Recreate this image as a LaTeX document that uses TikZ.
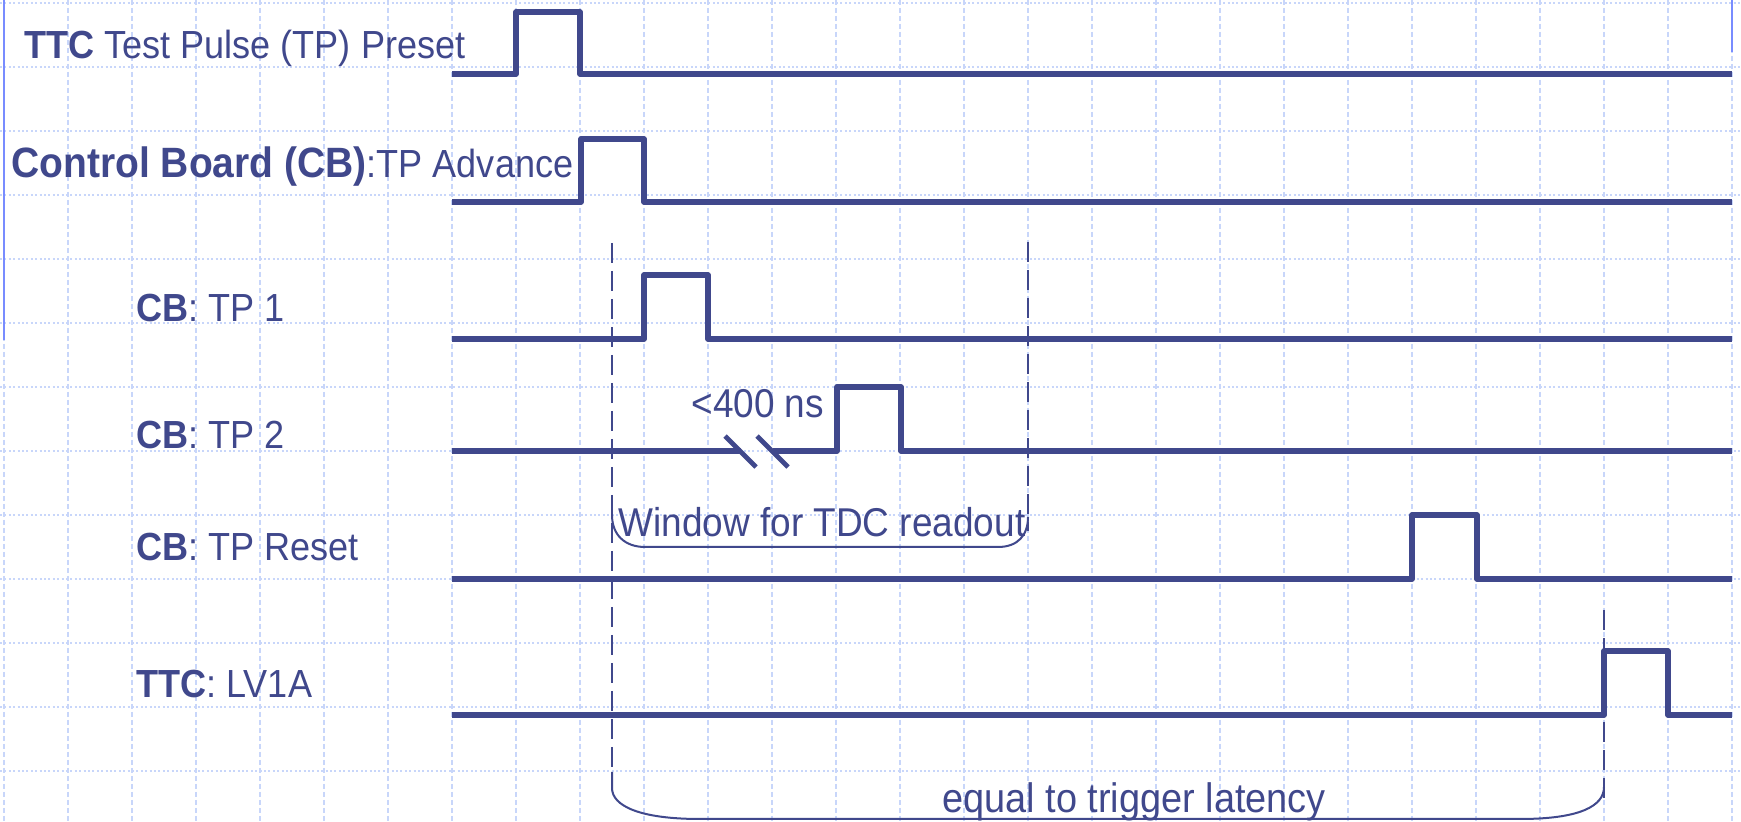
\documentclass[tikz,border=0pt]{standalone}
\usepackage{fontspec}
\setmainfont{Liberation Sans}[FakeStretch=0.92]
\definecolor{sig}{RGB}{64,72,140}
\definecolor{gridc}{RGB}{200,214,250}
\definecolor{edgeblue}{RGB}{120,140,255}
\begin{document}
\begin{tikzpicture}[x=0.5pt,y=-0.5pt,
  signal/.style={draw=sig,line width=2.6pt,line join=round},
  breakmark/.style={draw=sig,line width=2.4pt},
  guide/.style={draw=sig,line width=0.9pt,dash pattern=on 10pt off 4pt},
  bracket/.style={draw=sig,line width=1pt},
  vgrid/.style={draw=gridc,line width=0.8pt,dash pattern=on 2.5pt off 1.5pt},
  hgrid/.style={draw=gridc,line width=1pt,dash pattern=on 1pt off 1.2pt},
  lbl/.style={anchor=base west,inner sep=0pt,text=sig,font=\fontsize{19.6}{22}\selectfont},
  note/.style={anchor=base west,inner sep=0pt,text=sig,font=\fontsize{20.1}{22}\selectfont}]
\useasboundingbox (0,0) rectangle (1741,822);
\fill[white] (0,0) rectangle (1741,822);
% grid
\foreach \i in {0,...,27} \draw[vgrid] ({4+64*\i},0) -- ({4+64*\i},822);
\foreach \j in {0,...,12} \draw[hgrid] (0,{3+64*\j}) -- (1741,{3+64*\j});
% slide edges
\draw[edgeblue,line width=1pt] (4,0) -- (4,340);
\draw[edgeblue,line width=1pt] (1732,0) -- (1732,52);
% labels
\node[lbl] (l1) at (24,59) {\textbf{TTC} Test Pulse (TP) Preset};
\node[lbl] (l2) at (11,178) {{\fontsize{21.2}{23}\selectfont\textbf{Control Board (CB)}}:TP Advance};
\node[lbl] (l3) at (136,322) {\textbf{CB}: TP 1};
\node[lbl] (l4) at (136,449) {\textbf{CB}: TP 2};
\node[lbl] (l5) at (136,561) {\textbf{CB}: TP Reset};
\node[lbl] (l6) at (136,698) {\textbf{TTC}: LV1A};
% signals
\draw[signal] (452,74) -- (516,74) -- (516,12) -- (580,12) -- (580,74) -- (1732,74);
\draw[signal] (452,202) -- (581,202) -- (581,139) -- (644,139) -- (644,202) -- (1732,202);
\draw[signal] (452,339) -- (644,339) -- (644,275) -- (708,275) -- (708,339) -- (1732,339);
\draw[signal] (452,451) -- (741,451);
\draw[signal] (773,451) -- (837,451) -- (837,387) -- (901,387) -- (901,451) -- (1732,451);
\draw[signal] (452,579) -- (1412,579) -- (1412,515) -- (1477,515) -- (1477,579) -- (1732,579);
\draw[signal] (452,715) -- (1604,715) -- (1604,651) -- (1668,651) -- (1668,715) -- (1732,715);
% break marks
\draw[breakmark] (725,436) -- (756,467);
\draw[breakmark] (757,436) -- (788,467);
\node[note] (gap) at (691,418) {<400 ns};
% guides
\draw[guide] (612,243) -- (612,776);
\draw[guide] (1028,242) -- (1028,531);
\draw[guide] (1604,610) -- (1604,802);
% window bracket
\draw[bracket] (612,515) .. controls (612,535) and (625,547) .. (645,547) -- (998,547) .. controls (1018,547) and (1028,535) .. (1028,517);
\node[note] (win) at (618,537) {Window for TDC readout};
% latency bracket
\draw[bracket] (612,772) -- (612,788) .. controls (612,806) and (640,819) .. (700,819) -- (1520,819) .. controls (1580,819) and (1604,806) .. (1604,787);
\node[note,font=\fontsize{20.6}{22}\selectfont] (lat) at (942,813) {equal to trigger latency};
\end{tikzpicture}
\end{document}
